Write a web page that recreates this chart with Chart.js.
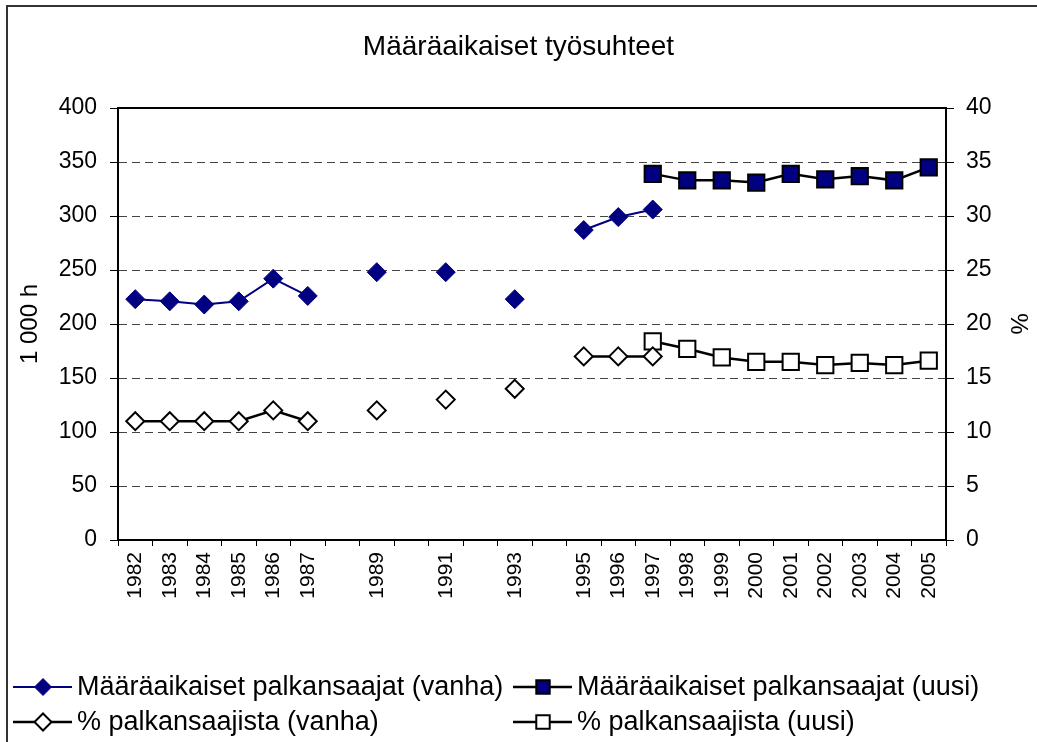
<!DOCTYPE html>
<html>
<head>
<meta charset="utf-8">
<script src="https://cdn.jsdelivr.net/npm/chart.js@4"></script>
<style>
  body { margin: 0; background: #fff; }
  #wrap { width: 1037px; height: 742px; position: relative; }
</style>
</head>
<body>
<div id="wrap"><canvas id="chart"></canvas></div>
<script>
const FONT = '"Liberation Sans", Arial, sans-serif'

const years = ['1982', '1983', '1984', '1985', '1986', '1987', '1988', '1989', '1990', '1991', '1992', '1993',
  '1994', '1995', '1996', '1997', '1998', '1999', '2000', '2001', '2002', '2003', '2004', '2005']
// years with no figures get no tick label
const yearLabels = ['1982', '1983', '1984', '1985', '1986', '1987', '', '1989', '', '1991', '', '1993',
  '', '1995', '1996', '1997', '1998', '1999', '2000', '2001', '2002', '2003', '2004', '2005']

const seriesNames = [
  'Määräaikaiset palkansaajat (vanha)',
  'Määräaikaiset palkansaajat (uusi)',
  '% palkansaajista (vanha)',
  '% palkansaajista (uusi)'
]

// 1 000 henkeä
const hloVanha = [223, 221, 218, 221, 242, 226, null, 248, null, 248, null, 223,
  null, 287, 299, 306, null, null, null, null, null, null, null, null]
const hloUusi = [null, null, null, null, null, null, null, null, null, null, null, null,
  null, null, null, 339, 333, 333, 331, 339, 334, 337, 333, 345]
// % palkansaajista
const pctVanha = [11, 11, 11, 11, 12, 11, null, 12, null, 13, null, 14,
  null, 17, 17, 17, null, null, null, null, null, null, null, null]
const pctUusi = [null, null, null, null, null, null, null, null, null, null, null, null,
  null, null, null, 18.4, 17.7, 16.9, 16.5, 16.5, 16.2, 16.4, 16.2, 16.6]

const NAVY = '#000080'

function markerPath(ctx, style, x, y, r) {
  ctx.beginPath()
  if (style === 'rectRot') {
    ctx.moveTo(x - r, y)
    ctx.lineTo(x, y - r)
    ctx.lineTo(x + r, y)
    ctx.lineTo(x, y + r)
  } else {
    const h = r * Math.SQRT1_2
    ctx.rect(x - h, y - h, 2 * h, 2 * h)
  }
  ctx.closePath()
}

// frame of the whole chart, top edge of the plot area, and the legend in two columns
const framePlugin = {
  id: 'frame',
  beforeDatasetsDraw(chart) {
    const {ctx, chartArea} = chart
    ctx.save()
    ctx.strokeStyle = '#000'
    ctx.lineWidth = 2
    ctx.beginPath()
    ctx.moveTo(chartArea.left, chartArea.top)
    ctx.lineTo(chartArea.right, chartArea.top)
    ctx.stroke()
    ctx.restore()
  },
  afterDraw(chart) {
    const ctx = chart.ctx
    ctx.save()
    ctx.strokeStyle = '#333'
    ctx.lineWidth = 2
    ctx.strokeRect(7, 6, 1200, 900)

    const cols = [13, 513]
    const rows = [687, 722]
    chart.data.datasets.forEach((ds, i) => {
      const x = cols[i % 2]
      const y = rows[Math.floor(i / 2)]
      ctx.strokeStyle = ds.borderColor
      ctx.lineWidth = ds.borderWidth
      ctx.beginPath()
      ctx.moveTo(x, y)
      ctx.lineTo(x + 59, y)
      ctx.stroke()
      const r = ds.pointStyle === 'rectRot' ? 8.5 : 9.5
      markerPath(ctx, ds.pointStyle, x + 30, y, r)
      ctx.fillStyle = ds.pointBackgroundColor
      ctx.fill()
      ctx.strokeStyle = ds.pointBorderColor
      ctx.lineWidth = ds.pointBorderWidth
      ctx.stroke()
      ctx.fillStyle = '#000'
      ctx.font = '27px ' + FONT
      ctx.textBaseline = 'middle'
      ctx.fillText(ds.label, x + 64, y + 1)
    })
    ctx.restore()
  }
}

const chart = new Chart(
  document.getElementById('chart'),
  {
    type: 'line',
    data: {
      labels: years,
      datasets: [
        {
          label: seriesNames[0],
          data: hloVanha,
          yAxisID: 'y',
          borderColor: NAVY,
          borderWidth: 2,
          pointStyle: 'rectRot',
          pointRadius: 9.5,
          pointBackgroundColor: NAVY,
          pointBorderColor: NAVY,
          pointBorderWidth: 1
        },
        {
          label: seriesNames[1],
          data: hloUusi,
          yAxisID: 'y',
          borderColor: '#000',
          borderWidth: 2.5,
          pointStyle: 'rect',
          pointRadius: 11.5,
          pointBackgroundColor: NAVY,
          pointBorderColor: '#000',
          pointBorderWidth: 2
        },
        {
          label: seriesNames[2],
          data: pctVanha,
          yAxisID: 'y1',
          borderColor: '#000',
          borderWidth: 2.5,
          pointStyle: 'rectRot',
          pointRadius: 9,
          pointBackgroundColor: '#fff',
          pointBorderColor: '#000',
          pointBorderWidth: 2
        },
        {
          label: seriesNames[3],
          data: pctUusi,
          yAxisID: 'y1',
          borderColor: '#000',
          borderWidth: 2.5,
          pointStyle: 'rect',
          pointRadius: 11.5,
          pointBackgroundColor: '#fff',
          pointBorderColor: '#000',
          pointBorderWidth: 2
        }
      ]
    },
    options: {
      responsive: true,
      maintainAspectRatio: false,
      animation: false,
      events: [],
      spanGaps: false,
      layout: {
        padding: {left: 0, right: 0, top: 0, bottom: 110}
      },
      elements: {
        line: {tension: 0}
      },
      plugins: {
        legend: {display: false},
        tooltip: {enabled: false},
        title: {
          display: true,
          text: 'Määräaikaiset työsuhteet',
          color: '#000',
          font: {family: FONT, size: 28, weight: 'normal'},
          padding: {top: 30, bottom: 44.4}
        }
      },
      scales: {
        x: {
          offset: true,
          grid: {
            offset: true,
            drawOnChartArea: false,
            tickLength: 6,
            color: '#000'
          },
          border: {color: '#000', width: 2},
          ticks: {
            autoSkip: false,
            minRotation: 90,
            maxRotation: 90,
            padding: 6,
            color: '#000',
            font: {family: FONT, size: 21},
            callback: (val, i) => yearLabels[i]
          },
          afterFit: s => { s.height = 92 }
        },
        y: {
          position: 'left',
          min: 0,
          max: 400,
          grid: {
            color: '#444',
            lineWidth: 1,
            tickLength: 8,
            tickColor: '#000',
            tickBorderDash: []
          },
          border: {color: '#000', width: 2, dash: [8, 5]},
          ticks: {
            stepSize: 50,
            padding: 13,
            color: '#000',
            font: {family: FONT, size: 23}
          },
          title: {
            display: true,
            text: '1 000 h',
            color: '#000',
            font: {family: FONT, size: 24},
            padding: {top: 16, bottom: 0}
          },
          afterFit: s => { s.width = 118 }
        },
        y1: {
          position: 'right',
          min: 0,
          max: 40,
          grid: {
            drawOnChartArea: false,
            tickLength: 8,
            color: '#000'
          },
          border: {color: '#000', width: 2},
          ticks: {
            stepSize: 5,
            padding: 12,
            color: '#000',
            font: {family: FONT, size: 23}
          },
          title: {
            display: true,
            text: '%',
            color: '#000',
            font: {family: FONT, size: 24},
            padding: {top: 5, bottom: 0}
          },
          afterFit: s => { s.width = 91 }
        }
      }
    },
    plugins: [framePlugin]
  }
)
</script>
</body>
</html>
